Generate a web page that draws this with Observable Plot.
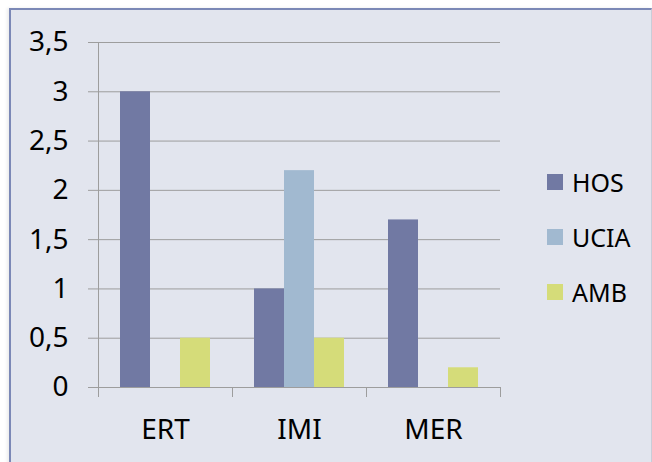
<!DOCTYPE html>
<html>
<head>
<meta charset="utf-8">
<script src="https://cdn.jsdelivr.net/npm/d3@7"></script>
<script src="https://cdn.jsdelivr.net/npm/@observablehq/plot@0.6"></script>
<style>
  html, body { margin: 0; padding: 0; background: #ffffff; }
  #wrap { position: relative; width: 652px; height: 462px; overflow: hidden; font-family: "Noto Sans", sans-serif; }
  #panel { position: absolute; left: 9px; top: 8px; right: 0; bottom: -4px;
           background: #e2e5ee; border-left: 2px solid #7b88b6; border-top: 2px solid #7b88b6;
           border-right: 1px solid #c9cdd8; box-shadow: -2px 0 3px rgba(0,0,0,0.08); }
  #chart { position: absolute; left: 0; top: 0; }
  #legend { position: absolute; left: 547px; top: 173px; }
  .item { position: absolute; left: 0; white-space: nowrap; height: 20px; }
  .sw { position: absolute; left: 0; top: 1px; width: 16px; height: 16px; }
  .lab { position: absolute; left: 25px; top: -6px; font-size: 25px; color: #000; line-height: 30px; }
</style>
</head>
<body>
<div id="wrap">
  <div id="panel"></div>
  <div id="chart"></div>
  <div id="legend"></div>
</div>
<script>
const categories = ["ERT", "IMI", "MER"];
const series = ["HOS", "UCIA", "AMB"];
const colors = ["#7179a3", "#a1b9d0", "#d5dc79"];
const HOS = [3, 1, 1.7];
const UCIA = [0, 2.2, 0];
const AMB = [0.5, 0.5, 0.2];
const yTicks = [0, 0.5, 1, 1.5, 2, 2.5, 3, 3.5];

const values = {HOS, UCIA, AMB};
const data = [];
for (const s of series) categories.forEach((c, i) => data.push({category: c, series: s, value: values[s][i]}));

const gridColor = "#9d9d9d";

// custom mark: x-axis tick marks at band boundaries, derived from the x scale
function bandEdgeTicks(index, scales, vals, dims) {
  const x = scales.x, y = scales.y;
  const step = x(categories[1]) - x(categories[0]);
  const edges = categories.map(c => x(c)).concat([x(categories[categories.length - 1]) + step]);
  const g = d3.create("svg:g");
  const y0 = y(0);
  for (const e of edges) {
    g.append("line")
      .attr("x1", e + 0.5).attr("x2", e + 0.5)
      .attr("y1", y0).attr("y2", y0 + 10)
      .attr("stroke", gridColor).attr("stroke-width", 1);
  }
  return g.node();
}

const bandPx = 134, barPx = 30, outer = 22;
const chart = Plot.plot({
  width: 652,
  height: 462,
  marginLeft: 98,
  marginRight: 152,
  marginTop: 42,
  marginBottom: 75,
  style: {background: "transparent", fontFamily: "'Noto Sans', sans-serif", fontSize: "28px", color: "#000", overflow: "visible"},
  x: {domain: categories, padding: 0, label: null},
  y: {domain: [0, 3.5], label: null},
  marks: [
    Plot.gridY(yTicks, {stroke: gridColor, strokeOpacity: 1, strokeWidth: 1}),
    ...series.map((s, k) => Plot.barY(data.filter(d => d.series === s), {
      x: "category", y: "value",
      fill: colors[k],
      insetLeft: outer + k * barPx,
      insetRight: outer + (2 - k) * barPx
    })),
    Plot.ruleY([0], {stroke: gridColor, strokeWidth: 1}),
    Plot.frame({anchor: "left", stroke: gridColor, strokeWidth: 1}),
    Plot.axisY(yTicks, {tickSize: 10, tickPadding: 20, stroke: gridColor, strokeOpacity: 1,
      tickFormat: d => String(d).replace(".", ","), fontSize: 28, fill: "#000"}),
    Plot.axisX({tickSize: 0, tickPadding: 32, fontSize: 28, fill: "#000"}),
    bandEdgeTicks
  ]
});
document.getElementById("chart").appendChild(chart);

const legend = d3.select("#legend");
series.forEach((s, k) => {
  const it = legend.append("div").attr("class", "item").style("top", (k * 55) + "px");
  it.append("div").attr("class", "sw").style("background", colors[k]);
  it.append("div").attr("class", "lab").text(s);
});
</script>
</body>
</html>
